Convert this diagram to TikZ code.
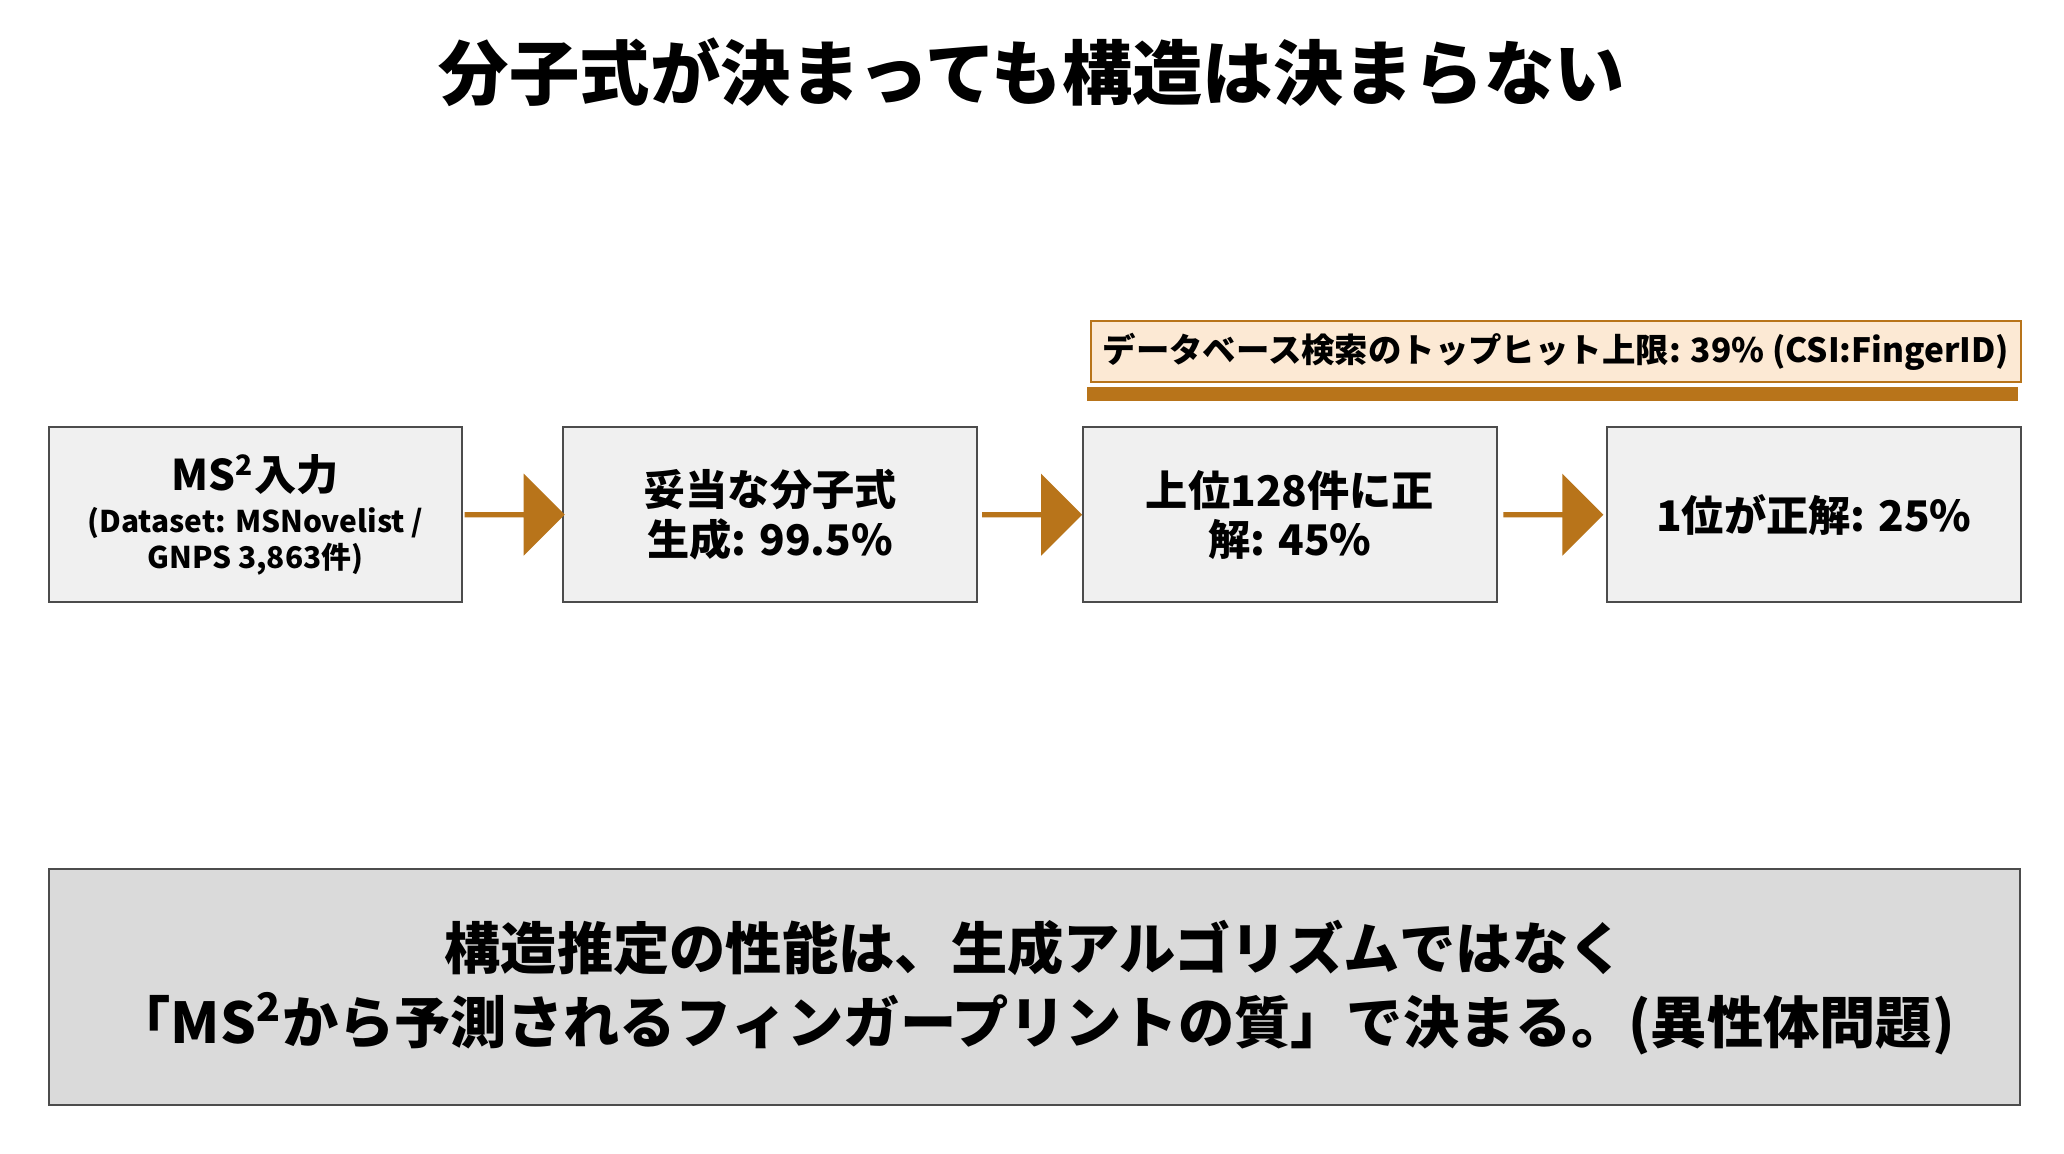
\documentclass[tikz,border=0pt]{standalone}
\usepackage{fontspec}
\setmainfont{Noto Sans CJK JP}
\usetikzlibrary{shapes.arrows,positioning}
\definecolor{arrowbrown}{HTML}{B8741A}
\definecolor{peach}{HTML}{FCE9D4}
\definecolor{boxgray}{HTML}{F0F0F0}
\definecolor{notegray}{HTML}{DADADA}
\tikzset{
  stage/.style={draw=black!70,fill=boxgray,line width=0.6pt,minimum width=4.13cm,minimum height=1.75cm,align=center,font=\bfseries\fontsize{12}{14}\selectfont},
  flow/.style={single arrow,fill=arrowbrown,draw=none,minimum height=1.0cm,minimum width=0.82cm,single arrow head extend=0.1cm,inner sep=0pt}
}
\begin{document}
\begin{tikzpicture}[x=0.01316cm,y=-0.01316cm]
\useasboundingbox[fill=white] (0,0) rectangle (1568,876);
\node[font=\bfseries\fontsize{20}{24}\selectfont] (title) at (784,55) {分子式が決まっても構造は決まらない};
% flow of stages
\node[stage] (input) at (194,391) {MS\textsuperscript{2}入力\\[-2pt]{\fontsize{8.5}{10}\selectfont (Dataset: MSNovelist /}\\[-4pt]{\fontsize{8.5}{10}\selectfont GNPS 3,863件)}};
\node[stage] (formula) at (585,391) {妥当な分子式\\生成: 99.5\%};
\node[stage] (top) at (980,391) {上位128件に正\\解: 45\%};
\node[stage] (first) at (1378,391) {1位が正解: 25\%};
\node[flow] (a1) at (390,391) {};
\node[flow] (a2) at (783,391) {};
\node[flow] (a3) at (1179,391) {};
% database upper bound
\node[draw=arrowbrown,fill=peach,line width=0.6pt,minimum width=9.1cm,minimum height=0.56cm,font=\bfseries\fontsize{9.5}{11}\selectfont] (limit) at (1182,267) {データベース検索のトップヒット上限: 39\% (CSI:FingerID)};
\coordinate (barl) at (826,299);
\coordinate (barr) at (1533,299);
\draw[arrowbrown,line width=4pt] (barl) -- (barr);
% conclusion
\node[draw=black!70,fill=notegray,line width=0.6pt,minimum width=19.7cm,minimum height=2.36cm,align=center,font=\bfseries\fontsize{16}{21}\selectfont] (note) at (786,750) {構造推定の性能は、生成アルゴリズムではなく\\「MS\textsuperscript{2}から予測されるフィンガープリントの質」で決まる。(異性体問題)};
\end{tikzpicture}
\end{document}
